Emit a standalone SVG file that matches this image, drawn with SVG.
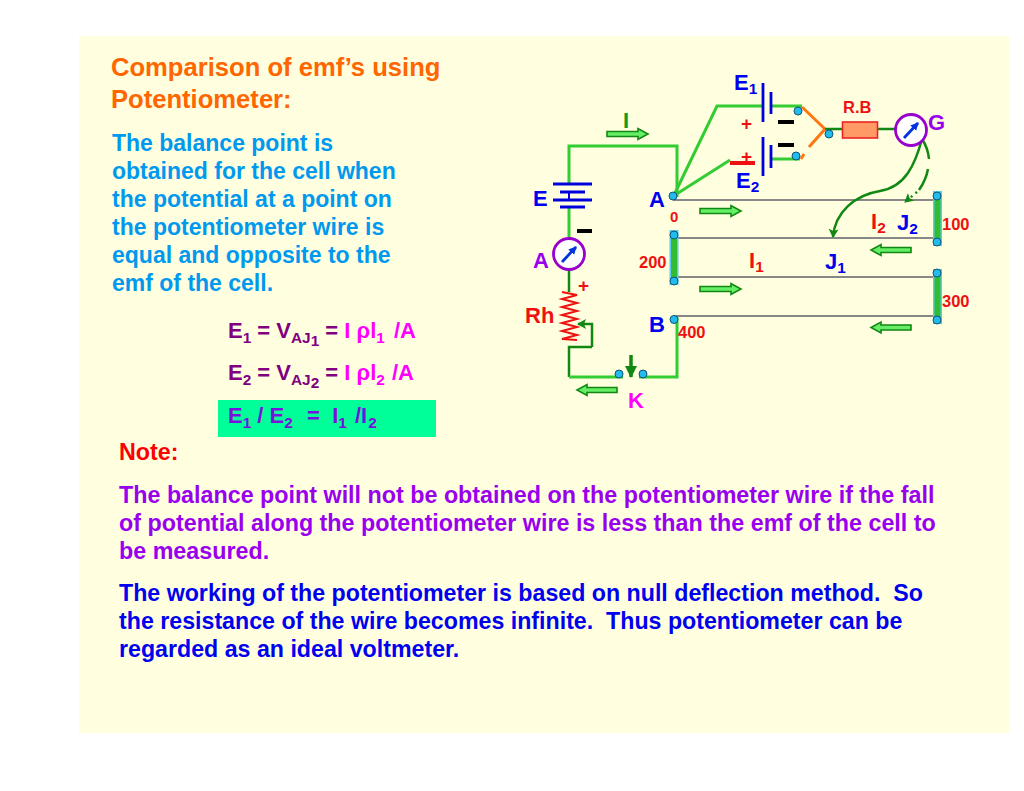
<svg xmlns="http://www.w3.org/2000/svg" width="1024" height="791" viewBox="0 0 1024 791">
<style>
text{font-family:"Liberation Sans",Arial,sans-serif;font-weight:bold}
.sub{font-size:70%}
.title{font-size:25.6px;fill:#ff6600}
.body{font-size:23px;fill:#0099ee}
.pur{font-size:23.3px;fill:#9900ee}
.blu{font-size:23.2px;fill:#0000ee}
.f{font-size:22px;fill:#800080}
.m{fill:#ff00ff}
.lb{font-size:22px;fill:#0000ee}
.lr{font-size:22px;fill:#ee1111}
.pl{font-size:19px;fill:#ee1111}
.n{font-size:16.5px;fill:#ee1111}
.w{fill:none;stroke:#33cc33;stroke-width:3}
.d{fill:none;stroke:#118811;stroke-width:2.5}
.o{fill:none;stroke:#ff7711;stroke-width:3}
.g{fill:none;stroke:#888888;stroke-width:2}
.plate{stroke:#0000dd;stroke-width:2.8}
.dot{fill:#22bbee;stroke:#115577;stroke-width:1}
.barO{fill:#55ccee}
.barI{fill:#33bb33}
.meter{fill:#ffffff;stroke:#9900cc;stroke-width:2.8}
.needle{stroke:#0033dd;stroke-width:2.8;fill:none}
.blk{fill:#66ee66;stroke:#118811;stroke-width:1.6}
</style>
<defs>
<path id="ra" d="M0,-2.5H31V-5.5L41,0L31,5.5V2.5H0Z"/>
<path id="la" d="M40,-2.5H10V-5.5L0,0L10,5.5V2.5H40Z"/>
<marker id="ah" markerWidth="11" markerHeight="11" refX="8" refY="5" orient="auto" markerUnits="userSpaceOnUse"><path d="M0,0L9,5L0,10L2,5Z" fill="#118811"/></marker>
<marker id="kh" markerWidth="13" markerHeight="13" refX="11" refY="6" orient="auto" markerUnits="userSpaceOnUse"><path d="M0,0L12,6L0,12Z" fill="#118811"/></marker>
<marker id="nh" markerWidth="9" markerHeight="9" refX="7" refY="4" orient="auto" markerUnits="userSpaceOnUse"><path d="M0,0L8,4L0,8Z" fill="#0033dd"/></marker>
</defs>
<rect id="background" x="79" y="36" width="930" height="697" fill="#ffffe0"/>

<g id="text-left">
<text class="title" x="111" y="76">Comparison of emf’s using</text>
<text class="title" x="111" y="108">Potentiometer:</text>
<text class="body" x="112" y="151">The balance point is</text>
<text class="body" x="112" y="179">obtained for the cell when</text>
<text class="body" x="112" y="207">the potential at a point on</text>
<text class="body" x="112" y="235">the potentiometer wire is</text>
<text class="body" x="112" y="263">equal and opposite to the</text>
<text class="body" x="112" y="291">emf of the cell.</text>
</g>

<g id="formulas">
<text class="f" x="228" y="338">E<tspan class="sub" dy="5">1</tspan><tspan dy="-5"> = V</tspan><tspan class="sub" dy="5">AJ</tspan><tspan class="sub" dy="3">1</tspan><tspan dy="-8"> = </tspan><tspan class="m">I ρl</tspan><tspan class="m sub" dy="5">1</tspan><tspan class="m" dx="3" dy="-5"> /A</tspan></text>
<text class="f" x="228" y="380">E<tspan class="sub" dy="5">2</tspan><tspan dy="-5"> = V</tspan><tspan class="sub" dy="5">AJ</tspan><tspan class="sub" dy="3">2</tspan><tspan dy="-8"> = </tspan><tspan class="m">I ρl</tspan><tspan class="m sub" dy="5">2</tspan><tspan class="m" dx="1" dy="-5"> /A</tspan></text>
<rect x="218" y="400" width="218" height="37" fill="#00ff99"/>
<text class="f" x="228" y="423" style="fill:#7711dd">E<tspan class="sub" dy="5">1</tspan><tspan dy="-5"> / E</tspan><tspan class="sub" dy="5">2</tspan><tspan dy="-5" dx="2" xml:space="preserve">  =  I</tspan><tspan class="sub" dy="5">1</tspan><tspan dy="-5" dx="2"> /I</tspan><tspan class="sub" dy="5" dx="1">2</tspan></text>
</g>

<g id="notes">
<text class="pur" style="fill:#ff0000" x="119" y="460">Note:</text>
<text class="pur" x="119" y="503">The balance point will not be obtained on the potentiometer wire if the fall</text>
<text class="pur" x="119" y="531">of potential along the potentiometer wire is less than the emf of the cell to</text>
<text class="pur" x="119" y="559">be measured.</text>
<text class="blu" x="119" y="601" xml:space="preserve">The working of the potentiometer is based on null deflection method.  So</text>
<text class="blu" x="119" y="629" xml:space="preserve">the resistance of the wire becomes infinite.  Thus potentiometer can be</text>
<text class="blu" x="119" y="657">regarded as an ideal voltmeter.</text>
</g>

<g id="connectors">
<path class="w" d="M569,184V146H677V197"/>
<path class="w" d="M675,193L717,106H763"/>
<path class="w" d="M675,195L730,160"/>
<path class="w" d="M569,207V237"/>
<path class="w" d="M771,106H802"/>
<path class="w" d="M771,159H800"/>
<path class="o" d="M802,107L825,129L809,147"/>
<path class="o" d="M804,154L801,159"/>
<path class="d" d="M825,129H842M878,129H895"/>
<path class="d" d="M569,270V292"/>
<path class="d" marker-end="url(#ah)" d="M592,347V324H578"/>
<path class="d" d="M592,347H569V377"/>
<path class="w" d="M569,377H623M639,377H677V316"/>
<path class="g" d="M673,200H938M674,238H938M674,277H938M674,316H938"/>
<path class="d" marker-end="url(#ah)" d="M922,139C915,165 905,187 880,191C855,195 835,212 833,237"/>
<path class="d" d="M922,139Q928,148 929,159M928,169Q926,180 919,190"/>
<path class="d" stroke-width="2" stroke-dasharray="2 4" marker-end="url(#ah)" d="M917,192L905,202"/>
<path fill="none" stroke="#118811" stroke-width="3.5" marker-end="url(#kh)" d="M631,355V377"/>
</g>

<g id="arrows">
<use href="#ra" class="blk" x="607" y="134"/>
<use href="#ra" class="blk" x="700" y="211"/>
<use href="#ra" class="blk" x="700" y="289"/>
<use href="#la" class="blk" x="871" y="250"/>
<use href="#la" class="blk" x="871" y="327.5"/>
<use href="#la" class="blk" x="577" y="390"/>
</g>

<g id="cell-E">
<path class="plate" d="M553,184H592M560,192H585M553,200H592M560,207H585"/>
<path stroke="#0000dd" stroke-width="2" d="M569,192V200"/>
<text class="lb" x="533" y="206">E</text>
<path stroke="#000" stroke-width="4" d="M577,231H592"/>
</g>

<g id="ammeter">
<circle class="meter" cx="569" cy="254" r="15.5"/>
<path class="needle" marker-end="url(#nh)" d="M562,262L576,247"/>
<text class="lb" style="fill:#9900ee" x="533" y="268">A</text>
<text class="pl" x="578" y="292">+</text>
</g>

<g id="rheostat">
<path fill="none" stroke="#ee1111" stroke-width="2" d="M562,292L577,295L562,299L577,303L562,307L577,311L562,315L577,319L562,323L577,327L562,331L577,335L562,339L577,340"/>
<text class="lr" x="525" y="323">Rh</text>
</g>

<g id="key">
<circle class="dot" cx="619" cy="374" r="4"/>
<circle class="dot" cx="643" cy="374" r="4"/>
<text class="lr" style="fill:#ff00ff" x="628" y="408">K</text>
</g>

<g id="cell-E1">
<path class="plate" d="M763,83V122M771,92V114"/>
<text class="lb" x="734" y="90">E<tspan class="sub" dy="4">1</tspan></text>
<text class="pl" x="741" y="130">+</text>
<path stroke="#000" stroke-width="4" d="M778,122H794"/>
<circle class="dot" cx="798" cy="111" r="4"/>
</g>

<g id="cell-E2">
<path class="plate" d="M763,137V176M771,145V168"/>
<text class="lb" x="736" y="188">E<tspan class="sub" dy="4">2</tspan></text>
<text class="pl" x="741" y="163">+</text>
<path stroke="#ee1111" stroke-width="4" d="M730,163H755"/>
<path stroke="#000" stroke-width="4" d="M778,145H794"/>
<circle class="dot" cx="796" cy="156" r="4"/>
<circle class="dot" cx="829" cy="134" r="4"/>
</g>

<g id="resistance-box">
<rect x="842.5" y="122" width="35" height="16" fill="#ff9966" stroke="#ee2222" stroke-width="1.6"/>
<text class="n" x="843" y="113">R.B</text>
</g>

<g id="galvanometer">
<circle class="meter" cx="911" cy="130" r="15.5"/>
<path class="needle" marker-end="url(#nh)" d="M904,138L918,123"/>
<text class="lb" style="fill:#9900ee" x="928" y="130">G</text>
</g>

<g id="terminal-A">
<circle class="dot" cx="673" cy="196" r="4"/>
<text class="lb" x="649" y="207">A</text>
<text class="n" style="font-size:15px" x="670" y="222">0</text>
</g>

<g id="terminal-B">
<circle class="dot" cx="674" cy="319.5" r="4"/>
<text class="lb" x="649" y="332">B</text>
<text class="n" x="678" y="338">400</text>
</g>

<g id="bar-left">
<rect class="barO" x="669.5" y="230" width="9" height="55"/>
<rect class="barI" x="671" y="234" width="6" height="47"/>
<circle class="dot" cx="674" cy="235" r="4"/>
<circle class="dot" cx="674" cy="281" r="4"/>
<text class="n" x="639" y="268">200</text>
</g>

<g id="bar-right-top">
<rect class="barO" x="933" y="191" width="9" height="55"/>
<rect class="barI" x="934.5" y="195" width="6" height="47"/>
<circle class="dot" cx="937" cy="196" r="4"/>
<circle class="dot" cx="937" cy="242" r="4"/>
<text class="n" x="942" y="230">100</text>
</g>

<g id="bar-right-bottom">
<rect class="barO" x="933" y="269" width="9" height="55"/>
<rect class="barI" x="934.5" y="273" width="6" height="47"/>
<circle class="dot" cx="937" cy="273" r="4"/>
<circle class="dot" cx="937" cy="320" r="4"/>
<text class="n" x="942" y="307">300</text>
</g>

<g id="labels">
<text class="lr" style="fill:#119922" x="623" y="128">I</text>
<text class="lr" x="871" y="229">I<tspan class="sub" dy="4">2</tspan></text>
<text class="lb" x="897" y="230">J<tspan class="sub" dy="4">2</tspan></text>
<text class="lr" x="749" y="268">I<tspan class="sub" dy="4">1</tspan></text>
<text class="lb" x="825" y="269">J<tspan class="sub" dy="4">1</tspan></text>
</g>
</svg>
